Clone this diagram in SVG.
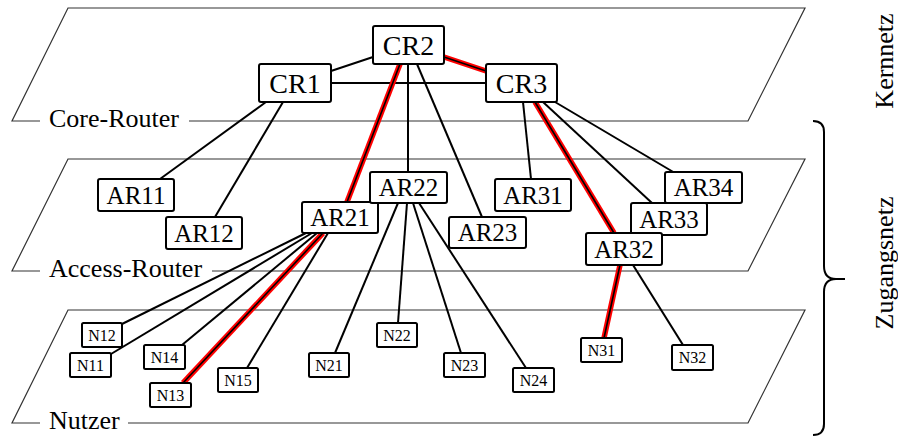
<svg xmlns="http://www.w3.org/2000/svg" width="898" height="436" viewBox="0 0 898 436">
<style>
.plane{fill:none;stroke:#333;stroke-width:1.2}
.lbl{font-family:"Liberation Serif","Times New Roman",serif;font-size:26px;fill:#000}
.e{stroke:#000;stroke-width:2;fill:none}
.rh{stroke:#f00;stroke-width:5.5;fill:none}
.rc{stroke:#000;stroke-width:1.6;fill:none}
.box{fill:#fff;stroke:#000;stroke-width:2}
.t{font-family:"Liberation Serif","Times New Roman",serif;text-anchor:middle;fill:#000}
.cr{font-size:28px}
.ar{font-size:25px}
.n{font-size:16px}
</style>
<rect width="898" height="436" fill="#fff"/>
<g id="planes">
<path class="plane" d="M40,121 L12,121 L68,8 L805,8 L748,121 L189,121"/>
<text class="lbl" x="49" y="127">Core-Router</text>
<path class="plane" d="M40,271 L12,271 L68,159 L805,159 L748,271 L212,271"/>
<text class="lbl" x="49" y="277">Access-Router</text>
<path class="plane" d="M40,423 L12,423 L68,310 L805,310 L748,423 L128,423"/>
<text class="lbl" x="49" y="429">Nutzer</text>
</g>
<g id="brace">
<path d="M813,121 Q824,121 824,132 L824,266 Q824,279 836,279 L845,279 M836,279 Q824,279 824,292 L824,424 Q824,435 813,435" fill="none" stroke="#000" stroke-width="2"/>
<text class="lbl" transform="translate(893,61) rotate(-90)" text-anchor="middle">Kernnetz</text>
<text class="lbl" transform="translate(893,263) rotate(-90)" text-anchor="middle">Zugangsnetz</text>
</g>
<g id="connectors">
<line class="e" x1="331" y1="71" x2="373" y2="57"/>
<line class="e" x1="331" y1="83" x2="486" y2="83"/>
<line class="e" x1="266" y1="102" x2="160" y2="179"/>
<line class="e" x1="283" y1="102" x2="215" y2="217"/>
<line class="e" x1="408" y1="64" x2="408" y2="172"/>
<line class="e" x1="417" y1="64" x2="482" y2="217"/>
<line class="e" x1="523" y1="102" x2="531" y2="179"/>
<line class="e" x1="543" y1="102" x2="652" y2="203"/>
<line class="e" x1="555" y1="102" x2="675" y2="173"/>
<line class="e" x1="306" y1="233" x2="122" y2="324"/>
<line class="e" x1="312" y1="233" x2="111" y2="354"/>
<line class="e" x1="317" y1="233" x2="182" y2="345"/>
<line class="e" x1="328" y1="233" x2="247" y2="368"/>
<line class="e" x1="398" y1="203" x2="335" y2="353"/>
<line class="e" x1="407" y1="203" x2="398" y2="323"/>
<line class="e" x1="413" y1="203" x2="461" y2="353"/>
<line class="e" x1="419" y1="203" x2="526" y2="368"/>
<line class="e" x1="633" y1="265" x2="683" y2="345"/>
<g id="path-highlight">
<line class="rh" x1="444" y1="57" x2="486" y2="71"/>
<line class="rh" x1="400" y1="64" x2="347" y2="202"/>
<line class="rh" x1="535" y1="102" x2="614" y2="233"/>
<line class="rh" x1="323" y1="233" x2="183" y2="383"/>
<line class="rh" x1="620" y1="265" x2="604" y2="338"/>
<line class="rc" x1="444" y1="57" x2="486" y2="71"/>
<line class="rc" x1="400" y1="64" x2="347" y2="202"/>
<line class="rc" x1="535" y1="102" x2="614" y2="233"/>
<line class="rc" x1="323" y1="233" x2="183" y2="383"/>
<line class="rc" x1="620" y1="265" x2="604" y2="338"/>
</g>
</g>
<g id="CR1"><rect class="box" x="259" y="64" width="72" height="38" rx="2"/><text class="t cr" x="295" y="92.5">CR1</text></g>
<g id="CR2"><rect class="box" x="373" y="26" width="71" height="38" rx="2"/><text class="t cr" x="408.5" y="54.5">CR2</text></g>
<g id="CR3"><rect class="box" x="486" y="64" width="71" height="38" rx="2"/><text class="t cr" x="521.5" y="92.5">CR3</text></g>
<g id="AR11"><rect class="box" x="98" y="179" width="76" height="32" rx="2"/><text class="t ar" x="136" y="203.5">AR11</text></g>
<g id="AR12"><rect class="box" x="166" y="217" width="76" height="32" rx="2"/><text class="t ar" x="204" y="241.5">AR12</text></g>
<g id="AR21"><rect class="box" x="302" y="202" width="76" height="31" rx="2"/><text class="t ar" x="340" y="226">AR21</text></g>
<g id="AR22"><rect class="box" x="370" y="172" width="77" height="31" rx="2"/><text class="t ar" x="408.5" y="196">AR22</text></g>
<g id="AR23"><rect class="box" x="449" y="217" width="77" height="31" rx="2"/><text class="t ar" x="487.5" y="241">AR23</text></g>
<g id="AR31"><rect class="box" x="495" y="179" width="76" height="32" rx="2"/><text class="t ar" x="533" y="203.5">AR31</text></g>
<g id="AR34"><rect class="box" x="665" y="172" width="77" height="31" rx="2"/><text class="t ar" x="703.5" y="196">AR34</text></g>
<g id="AR33"><rect class="box" x="631" y="203" width="76" height="32" rx="2"/><text class="t ar" x="669" y="227.5">AR33</text></g>
<g id="AR32"><rect class="box" x="586" y="233" width="76" height="32" rx="2"/><text class="t ar" x="624" y="257.5">AR32</text></g>
<g id="N12"><rect class="box" x="82" y="323" width="40" height="24" rx="1.5"/><text class="t n" x="102" y="340.5">N12</text></g>
<g id="N11"><rect class="box" x="70" y="353" width="41" height="24" rx="1.5"/><text class="t n" x="90.5" y="370.5">N11</text></g>
<g id="N14"><rect class="box" x="144" y="345" width="41" height="24" rx="1.5"/><text class="t n" x="164.5" y="362.5">N14</text></g>
<g id="N13"><rect class="box" x="150" y="383" width="41" height="24" rx="1.5"/><text class="t n" x="170.5" y="400.5">N13</text></g>
<g id="N15"><rect class="box" x="218" y="368" width="40" height="24" rx="1.5"/><text class="t n" x="238" y="385.5">N15</text></g>
<g id="N21"><rect class="box" x="309" y="353" width="40" height="24" rx="1.5"/><text class="t n" x="329" y="370.5">N21</text></g>
<g id="N22"><rect class="box" x="377" y="323" width="40" height="24" rx="1.5"/><text class="t n" x="397" y="340.5">N22</text></g>
<g id="N23"><rect class="box" x="444" y="353" width="41" height="24" rx="1.5"/><text class="t n" x="464.5" y="370.5">N23</text></g>
<g id="N24"><rect class="box" x="513" y="368" width="41" height="24" rx="1.5"/><text class="t n" x="533.5" y="385.5">N24</text></g>
<g id="N31"><rect class="box" x="581" y="338" width="41" height="24" rx="1.5"/><text class="t n" x="601.5" y="355.5">N31</text></g>
<g id="N32"><rect class="box" x="672" y="345" width="41" height="25" rx="1.5"/><text class="t n" x="692.5" y="363">N32</text></g>
</svg>
